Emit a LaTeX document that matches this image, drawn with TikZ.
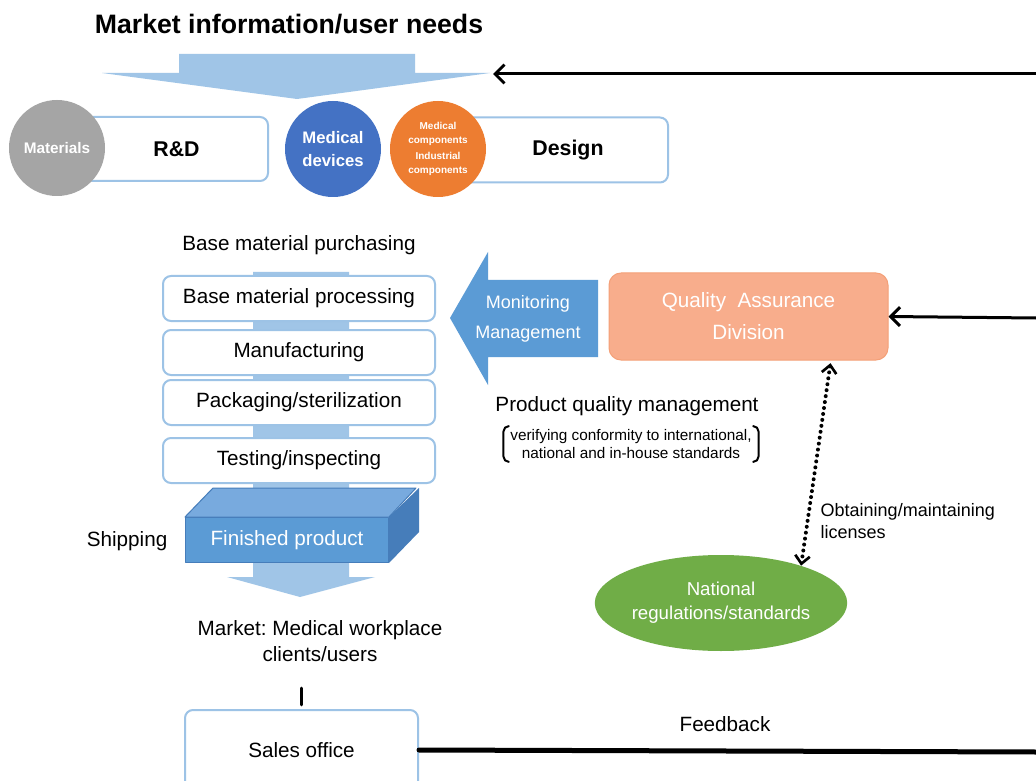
\documentclass[tikz,border=0pt]{standalone}
\usepackage{fontspec}
\setmainfont{Liberation Sans}
\usetikzlibrary{arrows,arrows.meta,shapes.geometric}
\definecolor{boxline}{RGB}{157,195,230}
\definecolor{flowfill}{RGB}{160,197,231}
\definecolor{matgray}{RGB}{165,165,165}
\definecolor{devblue}{RGB}{68,114,196}
\definecolor{comporange}{RGB}{237,125,49}
\definecolor{monblue}{RGB}{91,155,213}
\definecolor{qafill}{RGB}{248,173,140}
\definecolor{qaline}{RGB}{244,160,120}
\definecolor{natgreen}{RGB}{112,173,71}
\definecolor{finfront}{RGB}{91,155,213}
\definecolor{fintop}{RGB}{120,170,222}
\definecolor{finside}{RGB}{70,125,186}

\begin{document}
\begin{tikzpicture}[line cap=round,line join=round,>={Straight Barb[length=7pt,width=14pt]},x=0.75pt,y=-0.75pt,
  txt/.style={font=\fontsize{15.5}{19}\selectfont},
  stagebox/.style={draw=boxline,line width=1.5pt,rounded corners=6pt,fill=white,txt},
  disk/.style={circle,inner sep=0pt,minimum size=72pt,text=white,align=center}]
\clip(0,0) rectangle (1036,781);
\fill[white] (0,0) rectangle (1036,781);
% title and top flow arrow
\node (needs) at (289,24) {\fontsize{20}{24}\selectfont\bfseries Market information/user needs};
\fill[flowfill] (179,54) -- (415,54) -- (415,73) -- (490,73) -- (297,99) -- (102,73) -- (179,73) -- cycle;
\coordinate (needsR) at (1036,74);
\coordinate (needsL) at (493,74);
\draw[->,line width=2.25pt] (needsR) -- (needsL);
% R&D and design row
\node[stagebox,minimum width=137.25pt,minimum height=48pt,font=\bfseries\fontsize{16}{19}\selectfont] (rd) at (176.5,149) {R\&D};
\node[stagebox,minimum width=163.5pt,minimum height=48.75pt,font=\bfseries\fontsize{16}{19}\selectfont] (design) at (559,150) {\hspace*{13.5pt}Design};
\node[disk,fill=matgray,font=\bfseries\fontsize{11.5}{14}\selectfont] (mat) at (57,148) {Materials};
\node[disk,fill=devblue,font=\bfseries\fontsize{12.5}{17}\selectfont] (dev) at (333,149) {Medical\\devices};
\node[disk,fill=comporange,font=\bfseries\fontsize{7.5}{10.5}\selectfont] (comp) at (438,149) {Medical\\components\\[2pt]Industrial\\components};
% production flow
\fill[flowfill] (253,272) -- (349,272) -- (349,577) -- (375,577) -- (300,597) -- (227,577) -- (253,577) -- cycle;
\node[txt] (purch) at (299,245) {Base material purchasing};
\node[stagebox,minimum width=204pt,minimum height=33.75pt] (proc) at (299,298.5) {Base material processing};
\node[stagebox,minimum width=204pt,minimum height=33.75pt] (manu) at (299,352.5) {Manufacturing};
\node[stagebox,minimum width=204pt,minimum height=33.75pt] (pack) at (299,402.5) {Packaging/sterilization};
\node[stagebox,minimum width=204pt,minimum height=33.75pt] (test) at (299,460.5) {Testing/inspecting};
\node[fill=finfront,draw=finside,line width=0.75pt,minimum width=152.25pt,minimum height=33.75pt,text=white,txt] (fin) at (287,540) {Finished product};
\fill[fintop,draw=finside,line width=0.75pt] (fin.north west) -- ++(28,-29) -- ++(203,0) -- (fin.north east) -- cycle;
\fill[finside] (fin.north east) -- ++(30,-29) -- ++(0,44) -- (fin.south east) -- cycle;
\node[txt,anchor=east] (ship) at (172,541) {Shipping};
\node[txt,align=center] (mkt) at (320,641) {Market:\ Medical workplace\\clients/users};
\node[stagebox,minimum width=174.75pt,minimum height=60pt] (sales) at (301.5,750) {Sales office};
\draw[line width=2pt,shorten <=16.5pt,shorten >=3pt] (sales.north |- mkt.south) -- (sales.north);
\coordinate (feedR) at (1036,752);
\draw[line width=3.75pt] (sales.east) -- (feedR);
\node[txt] (feed) at (725,724) {Feedback};
% quality assurance side
\fill[monblue] (598,280) -- (488,280) -- (488,252) -- (450,318) -- (488,385) -- (488,357) -- (598,357) -- cycle;
\node[text=white,align=center,font=\fontsize{13.5}{23}\selectfont] (mon) at (528,319) {Monitoring\\Management};
\node[fill=qafill,draw=qaline,line width=0.75pt,rounded corners=9pt,minimum width=209.25pt,minimum height=65.25pt,text=white,align=center,font=\fontsize{15.5}{24}\selectfont] (qa) at (748.5,316.5) {Quality\ \ Assurance\\Division};
\coordinate (qaR) at (1036,318);
\draw[->,line width=2.25pt] (qaR) -- (qa.east);
\node[txt] (pqm) at (627,406) {Product quality management};
\node[align=center,inner xsep=5pt,inner ysep=2pt,font=\fontsize{11.5}{14}\selectfont] (verify) at (631,444) {verifying conformity to international,\\national and in-house standards};
\draw[line width=1.5pt,rounded corners=4pt] ([xshift=4pt]verify.north west) -- (verify.north west) -- (verify.south west) -- ++(4pt,0);
\draw[line width=1.5pt,rounded corners=4pt] ([xshift=-4pt]verify.north east) -- (verify.north east) -- (verify.south east) -- ++(-4pt,0);
\node[ellipse,fill=natgreen,inner sep=0pt,minimum width=187.5pt,minimum height=72pt,text=white,align=center,font=\fontsize{14}{18}\selectfont] (nat) at (721,603) {National\\regulations/standards};
\draw[<->,line width=3pt,dash pattern=on 0pt off 4.5pt,>={Straight Barb[length=6pt,width=11pt,line width=2pt]}] ([xshift=-43.5pt,yshift=-2pt]qa.south east) -- (nat.25);
\node[anchor=west,align=left,font=\fontsize{13.5}{17}\selectfont] (lic) at (816,521) {Obtaining/maintaining\\licenses};
\end{tikzpicture}
\end{document}
